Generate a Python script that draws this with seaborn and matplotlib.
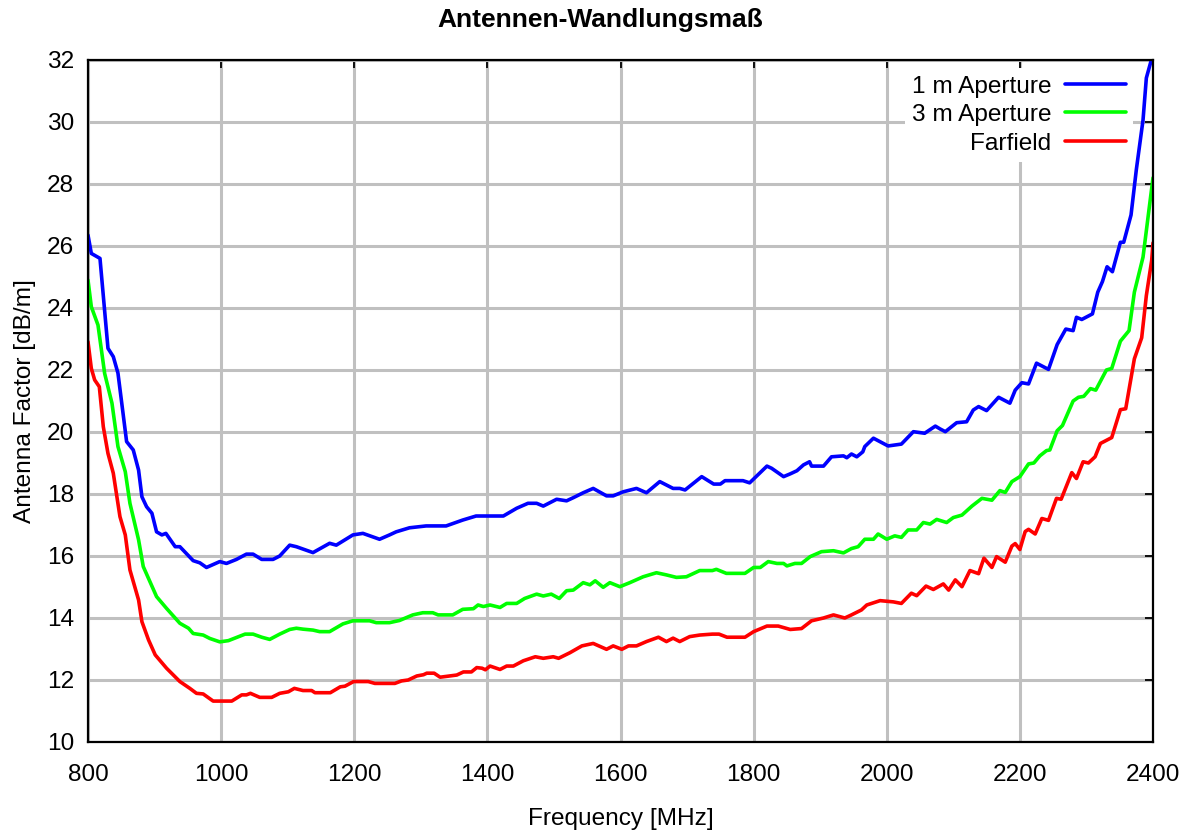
import pandas as pd
import numpy as np
import matplotlib
matplotlib.use("Agg")
import matplotlib.pyplot as plt
import seaborn as sns

# Frequencies [MHz] and antenna factor [dB/m]
freq_1m = [800, 805, 818, 830, 838, 845, 858, 868, 876, 881, 888, 896, 903, 911, 917,
           931, 938, 958, 968, 978, 998, 1008, 1023, 1038, 1048, 1061, 1078, 1088, 1103,
           1113, 1138, 1163, 1173, 1198, 1213, 1238, 1253, 1263, 1283, 1308, 1338, 1363,
           1383, 1424, 1444, 1461, 1474, 1484, 1504, 1519, 1529, 1544, 1559, 1579, 1589,
           1604, 1624, 1639, 1659, 1679, 1689, 1697, 1722, 1740, 1750, 1757, 1784, 1794,
           1820, 1827, 1845, 1855, 1865, 1875, 1884, 1887, 1905, 1917, 1935, 1940, 1947,
           1955, 1964, 1967, 1980, 2002, 2022, 2040, 2057, 2073, 2080, 2088, 2105, 2120,
           2130, 2138, 2150, 2168, 2185, 2193, 2203, 2213, 2225, 2243, 2256, 2269, 2280,
           2285, 2293, 2309, 2317, 2324, 2331, 2339, 2351, 2356, 2367, 2375, 2385, 2390,
           2398, 2400]
af_1m = [26.35, 25.76, 25.6, 22.7, 22.43, 21.9, 19.69, 19.42, 18.77, 17.91, 17.59, 17.38,
         16.78, 16.68, 16.73, 16.30, 16.30, 15.85, 15.78, 15.63, 15.82, 15.76, 15.89, 16.06,
         16.06, 15.89, 15.89, 16.0, 16.35, 16.30, 16.11, 16.41, 16.35, 16.68, 16.73, 16.54,
         16.68, 16.78, 16.91, 16.97, 16.97, 17.16, 17.29, 17.29, 17.54, 17.70, 17.70, 17.61,
         17.83, 17.78, 17.88, 18.04, 18.18, 17.94, 17.94, 18.07, 18.18, 18.04, 18.40, 18.18,
         18.18, 18.13, 18.56, 18.32, 18.32, 18.43, 18.43, 18.36, 18.90, 18.83, 18.56, 18.65,
         18.75, 18.94, 19.04, 18.90, 18.90, 19.20, 19.23, 19.17, 19.29, 19.20, 19.36, 19.53,
         19.80, 19.55, 19.61, 20.01, 19.96, 20.19, 20.10, 20.01, 20.30, 20.33, 20.71, 20.82,
         20.69, 21.12, 20.93, 21.35, 21.59, 21.55, 22.22, 22.02, 22.82, 23.32, 23.27, 23.70,
         23.63, 23.81, 24.51, 24.85, 25.33, 25.17, 26.12, 26.12, 27.0, 28.47, 30.06, 31.42,
         32.04, 32.4]

freq_3m = [800, 805, 815, 825, 836, 845, 856, 863, 876, 883, 903, 918, 938, 951, 958, 973,
           983, 998, 1011, 1036, 1048, 1061, 1073, 1088, 1103, 1113, 1123, 1138, 1148, 1163,
           1183, 1198, 1223, 1233, 1253, 1268, 1288, 1303, 1318, 1326, 1348, 1363, 1379,
           1386, 1394, 1404, 1419, 1429, 1444, 1456, 1474, 1484, 1496, 1508, 1519, 1529,
           1544, 1554, 1562, 1574, 1584, 1599, 1614, 1634, 1654, 1669, 1684, 1699, 1719,
           1738, 1744, 1759, 1787, 1800, 1810, 1822, 1835, 1845, 1850, 1862, 1872, 1885,
           1902, 1920, 1935, 1947, 1957, 1967, 1980, 1987, 2000, 2012, 2022, 2032, 2045,
           2055, 2065, 2075, 2090, 2100, 2113, 2128, 2143, 2158, 2170, 2178, 2188, 2200,
           2213, 2221, 2230, 2240, 2245, 2256, 2264, 2280, 2288, 2296, 2306, 2314, 2330,
           2338, 2351, 2364, 2372, 2385, 2393, 2400]
af_3m = [24.9, 24.04, 23.45, 21.89, 20.93, 19.53, 18.72, 17.70, 16.52, 15.66, 14.69, 14.31,
         13.83, 13.67, 13.50, 13.45, 13.34, 13.23, 13.27, 13.48, 13.48, 13.38, 13.31, 13.48,
         13.63, 13.67, 13.64, 13.61, 13.56, 13.56, 13.81, 13.91, 13.91, 13.85, 13.85, 13.92,
         14.10, 14.17, 14.17, 14.10, 14.10, 14.28, 14.30, 14.42, 14.37, 14.42, 14.34, 14.47,
         14.47, 14.63, 14.77, 14.71, 14.77, 14.63, 14.88, 14.90, 15.14, 15.07, 15.20, 14.99,
         15.14, 15.01, 15.14, 15.33, 15.46, 15.39, 15.31, 15.33, 15.53, 15.53, 15.57, 15.44,
         15.44, 15.63, 15.63, 15.82, 15.76, 15.76, 15.68, 15.76, 15.76, 15.98, 16.14, 16.17,
         16.10, 16.24, 16.30, 16.54, 16.54, 16.71, 16.54, 16.65, 16.60, 16.84, 16.84, 17.08,
         17.03, 17.18, 17.08, 17.24, 17.32, 17.61, 17.86, 17.80, 18.11, 18.05, 18.40, 18.56,
         18.97, 19.00, 19.23, 19.40, 19.42, 20.04, 20.21, 21.00, 21.12, 21.15, 21.40, 21.35,
         22.00, 22.05, 22.93, 23.27, 24.51, 25.64, 27.00, 28.2]

freq_ff = [800, 805, 810, 817, 823, 830, 838, 848, 856, 863, 876, 881, 891, 901, 918, 938,
           953, 963, 973, 988, 1016, 1031, 1038, 1044, 1058, 1076, 1088, 1101, 1110, 1123,
           1136, 1141, 1164, 1179, 1186, 1199, 1221, 1231, 1261, 1271, 1281, 1294, 1304,
           1309, 1320, 1329, 1354, 1364, 1376, 1384, 1392, 1397, 1404, 1419, 1429, 1439,
           1454, 1472, 1484, 1499, 1507, 1524, 1542, 1559, 1579, 1589, 1602, 1612, 1624,
           1639, 1657, 1669, 1679, 1689, 1704, 1719, 1738, 1748, 1760, 1787, 1800, 1820,
           1837, 1855, 1872, 1887, 1905, 1920, 1937, 1947, 1962, 1970, 1990, 2010, 2022,
           2037, 2045, 2059, 2070, 2085, 2093, 2103, 2113, 2125, 2138, 2146, 2158, 2165,
           2178, 2188, 2193, 2200, 2208, 2213, 2223, 2233, 2243, 2255, 2262, 2278, 2285,
           2295, 2303, 2313, 2321, 2338, 2351, 2359, 2372, 2383, 2390, 2398, 2400]
af_ff = [22.91, 22.05, 21.68, 21.46, 20.17, 19.31, 18.67, 17.27, 16.68, 15.55, 14.58, 13.88,
         13.29, 12.81, 12.38, 11.95, 11.73, 11.57, 11.55, 11.32, 11.32, 11.52, 11.52, 11.57,
         11.44, 11.44, 11.57, 11.62, 11.73, 11.66, 11.66, 11.59, 11.59, 11.78, 11.80, 11.95,
         11.95, 11.89, 11.89, 11.97, 12.00, 12.13, 12.17, 12.22, 12.22, 12.09, 12.16, 12.26,
         12.26, 12.40, 12.38, 12.33, 12.45, 12.34, 12.45, 12.45, 12.62, 12.75, 12.70, 12.75,
         12.70, 12.88, 13.10, 13.18, 12.99, 13.10, 12.99, 13.10, 13.10, 13.24, 13.38, 13.24,
         13.35, 13.24, 13.40, 13.45, 13.48, 13.48, 13.38, 13.38, 13.56, 13.74, 13.74, 13.63,
         13.66, 13.91, 14.00, 14.10, 14.00, 14.10, 14.26, 14.42, 14.56, 14.52, 14.47, 14.80,
         14.72, 15.03, 14.92, 15.10, 14.90, 15.23, 15.01, 15.53, 15.43, 15.93, 15.63, 15.98,
         15.80, 16.32, 16.40, 16.21, 16.79, 16.86, 16.71, 17.21, 17.15, 17.86, 17.83, 18.69,
         18.50, 19.04, 19.00, 19.20, 19.63, 19.82, 20.72, 20.75, 22.36, 23.04, 24.40, 25.53,
         26.10]

series_names = ["1 m Aperture", "3 m Aperture", "Farfield"]
series_colors = ["#0000ff", "#00ff00", "#ff0000"]

df = pd.concat([
    pd.DataFrame({"freq": freq_1m, "af": af_1m, "series": series_names[0]}),
    pd.DataFrame({"freq": freq_3m, "af": af_3m, "series": series_names[1]}),
    pd.DataFrame({"freq": freq_ff, "af": af_ff, "series": series_names[2]}),
], ignore_index=True)

sns.set_theme(style="white")
plt.rcParams["font.family"] = ["Liberation Sans", "DejaVu Sans"]
plt.rcParams["text.color"] = "black"

fig = plt.figure(figsize=(11.9, 8.34), dpi=100)
ax = fig.add_axes([88 / 1190, 1 - 742 / 834, (1153 - 88) / 1190, (742 - 60) / 834])

sns.lineplot(data=df, x="freq", y="af", hue="series", hue_order=series_names,
             palette=series_colors, estimator=None, sort=False, linewidth=2.6,
             legend=False, ax=ax, zorder=3)

ax.set_xlim(800, 2400)
ax.set_ylim(10, 32)
ax.set_xticks(np.arange(800, 2401, 200))
ax.set_yticks(np.arange(10, 33, 2))
ax.grid(True, color="#c0c0c0", linewidth=2.2, zorder=0)
ax.set_axisbelow(True)

for s in ax.spines.values():
    s.set_color("black")
    s.set_linewidth(1.6)
    s.set_zorder(4)

fs = 17.6
ax.tick_params(axis="both", direction="in", length=6, width=1.3, color="black",
               top=True, right=True, labelsize=fs, colors="black")
ax.tick_params(axis="x", pad=16)
ax.tick_params(axis="y", pad=10)

ax.set_xlabel("Frequency [MHz]", fontsize=fs, labelpad=16, color="black")
ax.set_ylabel("Antenna Factor [dB/m]", fontsize=fs, labelpad=8, color="black")
fig.text(600 / 1190, 1 - 20 / 834, "Antennen-Wandlungsmaß", fontsize=19,
         fontweight="bold", ha="center", va="center", color="black")

leg = ax.legend(handles=ax.get_lines()[:3], labels=series_names, loc="upper right",
                bbox_to_anchor=(0.993, 1.006), markerfirst=False, fontsize=fs,
                handlelength=2.5, handletextpad=0.55, labelspacing=0.26,
                frameon=True, facecolor="white", edgecolor="none", framealpha=1,
                borderpad=0.3, fancybox=False)
leg.set_zorder(2)
for t in leg.get_texts():
    t.set_color("black")

fig.savefig("out.png", dpi=100)
